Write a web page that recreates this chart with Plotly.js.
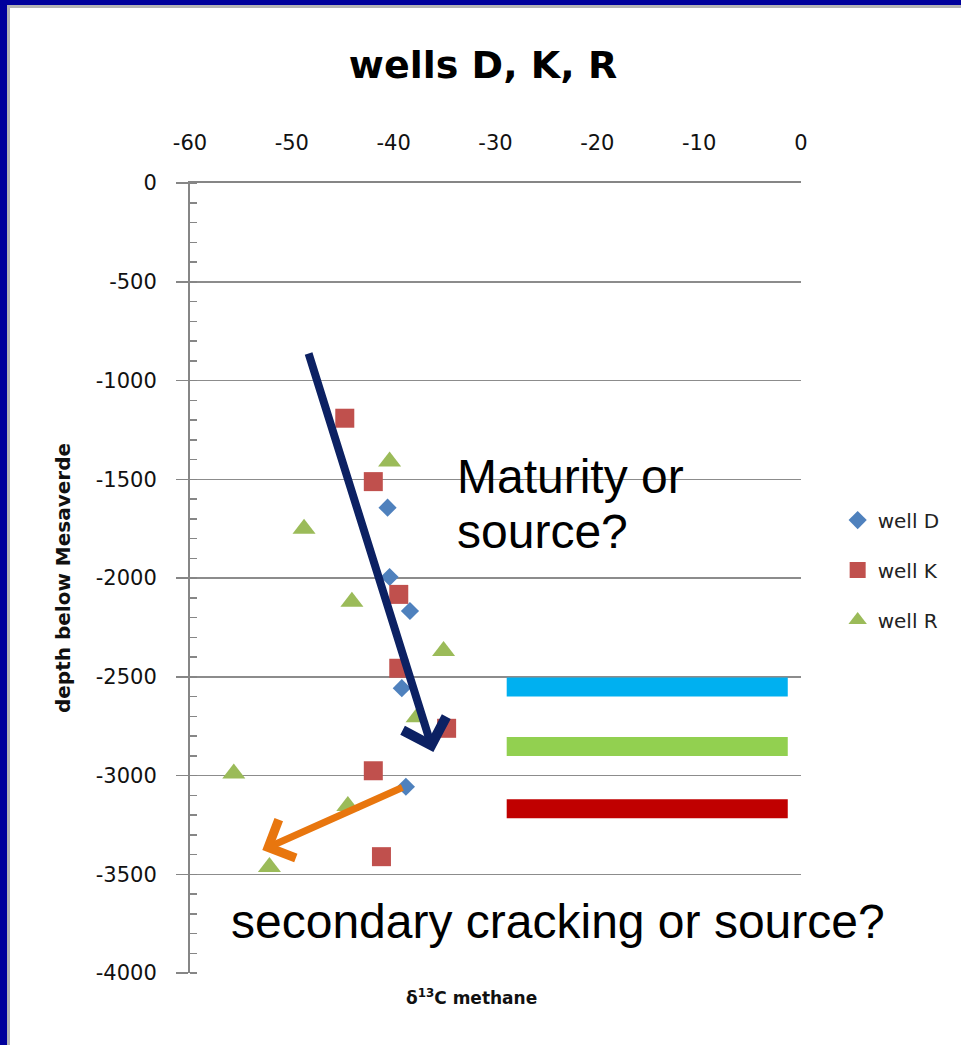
<!DOCTYPE html>
<html>
<head>
<meta charset="utf-8">
<script src="https://cdn.plot.ly/plotly-3.0.1.min.js"></script>
<style>
html,body{margin:0;padding:0;background:#fff;}
#wrap{position:relative;width:961px;height:1045px;overflow:hidden;background:#fff;}
#chart{position:absolute;left:0;top:0;width:961px;height:1045px;}
#frame{position:absolute;left:0;top:0;width:961px;height:1045px;box-sizing:border-box;border-left:7px solid #00009C;border-top:5px solid #00009C;pointer-events:none;}
#frame2{position:absolute;left:7px;top:5px;right:0;bottom:0;border-left:3px solid #b4b4b4;border-top:3px solid #b4b4b4;pointer-events:none;}
</style>
</head>
<body>
<div id="wrap">
  <div id="chart"></div>
  <div id="frame"></div>
  <div id="frame2"></div>
</div>
<script>
// ---- data ----
const seriesNames = ['well D', 'well K', 'well R'];

const wellD_x = [-40.6, -40.4, -38.4, -39.2, -38.8];
const wellD_y = [-1644, -1995, -2167, -2558, -3057];

const wellK_x = [-44.8, -42.0, -39.5, -39.5, -34.8, -42.0, -41.2];
const wellK_y = [-1191, -1512, -2083, -2457, -2761, -2976, -3411];

const wellR_x = [-40.4, -48.8, -44.1, -35.1, -37.7, -55.7, -44.5, -52.2];
const wellR_y = [-1410, -1750, -2120, -2370, -2705, -2990, -3155, -3463];

// coloured horizontal bands on the right
const bandDepths = [-2552, -2853, -3168];
const bandFrom = -28.9;
const bandTo = -1.3;

// arrows: [start, tip]
const arrowMaturity_x = [-48.4, -36.1];
const arrowMaturity_y = [-856, -2881];
const arrowCracking_x = [-39.0, -52.9];
const arrowCracking_y = [-3057, -3377];

// axis ticks
const xTickVals = [-60, -50, -40, -30, -20, -10, 0];
const xTickText = ['-60', '-50', '-40', '-30', '-20', '-10', '0'];
const yTickVals = [0, -500, -1000, -1500, -2000, -2500, -3000, -3500, -4000];
const yTickText = ['0', '-500', '-1000', '-1500', '-2000', '-2500', '-3000', '-3500', '-4000'];

// ---- styles ----
const seriesColors = ['#4F81BD', '#C0504D', '#9BBB59'];
const seriesSymbols = ['diamond', 'square', 'triangle-up'];
const seriesSizes = [14, 19, 20];
const bandColors = ['#00B0F0', '#92D050', '#C00000'];
const gridColor = '#8c8c8c';
const axisColor = '#868686';
const tickFont = {family: 'DejaVu Sans', size: 21, color: '#111'};

const xs = [wellD_x, wellK_x, wellR_x];
const ys = [wellD_y, wellK_y, wellR_y];

const traces = [];
bandDepths.forEach((d, i) => {
  traces.push({
    type: 'scatter', mode: 'lines',
    x: [bandFrom, bandTo], y: [d, d],
    line: {color: bandColors[i], width: 19},
    showlegend: false, hoverinfo: 'skip'
  });
});
seriesNames.forEach((name, i) => {
  traces.push({
    type: 'scatter', mode: 'markers', name: name,
    legendgroup: name,
    x: xs[i], y: ys[i],
    marker: {symbol: seriesSymbols[i], size: seriesSizes[i], color: seriesColors[i], line: {width: 0}}
  });
});

const textFont = {family: 'Liberation Sans', size: 48, color: '#000'};

const annotations = [
  {x: arrowMaturity_x[1], y: arrowMaturity_y[1], ax: arrowMaturity_x[0], ay: arrowMaturity_y[0],
   xref: 'x', yref: 'y', axref: 'x', ayref: 'y', text: '', showarrow: true,
   arrowhead: 4, arrowsize: 1.1, arrowwidth: 8, arrowcolor: '#0C2163', standoff: 0},
  {x: arrowCracking_x[1], y: arrowCracking_y[1], ax: arrowCracking_x[0], ay: arrowCracking_y[0],
   xref: 'x', yref: 'y', axref: 'x', ayref: 'y', text: '', showarrow: true,
   arrowhead: 4, arrowsize: 1.15, arrowwidth: 7, arrowcolor: '#E8760E', standoff: 0},
  {x: -34.0, y: -1484, xref: 'x', yref: 'y', xanchor: 'left', yanchor: 'middle',
   text: 'Maturity or', showarrow: false, font: textFont},
  {x: -34.0, y: -1765, xref: 'x', yref: 'y', xanchor: 'left', yanchor: 'middle',
   text: 'source?', showarrow: false, font: textFont},
  {x: -56.2, y: -3739, xref: 'x', yref: 'y', xanchor: 'left', yanchor: 'middle',
   text: 'secondary cracking or source?', showarrow: false, font: textFont},
  {x: 0.46, y: -0.0304, xref: 'paper', yref: 'paper', xanchor: 'center', yanchor: 'middle',
   text: 'δ<sup>13</sup>C methane', showarrow: false,
   font: {family: 'DejaVu Sans', size: 17, weight: 'bold', color: '#111'}}
];

const layout = {
  width: 961, height: 1045,
  margin: {l: 190, r: 160, t: 183, b: 72},
  paper_bgcolor: 'rgba(0,0,0,0)', plot_bgcolor: '#fff',
  title: {
    text: 'wells D, K, R',
    font: {family: 'DejaVu Sans', size: 38, weight: 'bold', color: '#000'},
    x: 0.5026, xref: 'container', xanchor: 'center',
    y: 0.938, yref: 'container', yanchor: 'middle'
  },
  xaxis: {
    range: [-60, 0], side: 'top',
    showline: true, linecolor: axisColor, linewidth: 2,
    showgrid: false, zeroline: false, ticks: '',
    tickmode: 'array', tickvals: xTickVals, ticktext: xTickText,
    tickfont: tickFont, ticklabelstandoff: 23, fixedrange: true
  },
  yaxis: {
    range: [-4000, 0],
    showline: true, linecolor: axisColor, linewidth: 2,
    showgrid: true, gridcolor: gridColor, gridwidth: 1.5, zeroline: false,
    ticks: 'outside', ticklen: 12, tickwidth: 1.5, tickcolor: axisColor,
    tickmode: 'array', tickvals: yTickVals, ticktext: yTickText,
    tickfont: tickFont, ticklabelstandoff: 15,
    minor: {tickmode: 'linear', tick0: 0, dtick: 100, ticks: 'inside', ticklen: 7, tickwidth: 1.5, tickcolor: axisColor, showgrid: false},
    title: {text: 'depth below Mesaverde', standoff: 20,
      font: {family: 'DejaVu Sans', size: 20, weight: 'bold', color: '#111'}},
    fixedrange: true
  },
  legend: {
    x: 1.06, xanchor: 'left', y: 0.598, yanchor: 'top',
    font: {family: 'DejaVu Sans', size: 20, color: '#222'},
    tracegroupgap: 21, bgcolor: 'rgba(0,0,0,0)', itemwidth: 30
  },
  showlegend: true,
  hovermode: false,
  annotations: annotations
};

Plotly.newPlot('chart', traces, layout, {displayModeBar: false, staticPlot: true}).then(function () {
  // arrow-only annotations leave empty text nodes behind; drop them
  document.querySelectorAll('#chart .annotation-text').forEach(function (t) {
    if (!t.textContent || !t.textContent.trim()) t.parentNode.removeChild(t);
  });
});
</script>
</body>
</html>
